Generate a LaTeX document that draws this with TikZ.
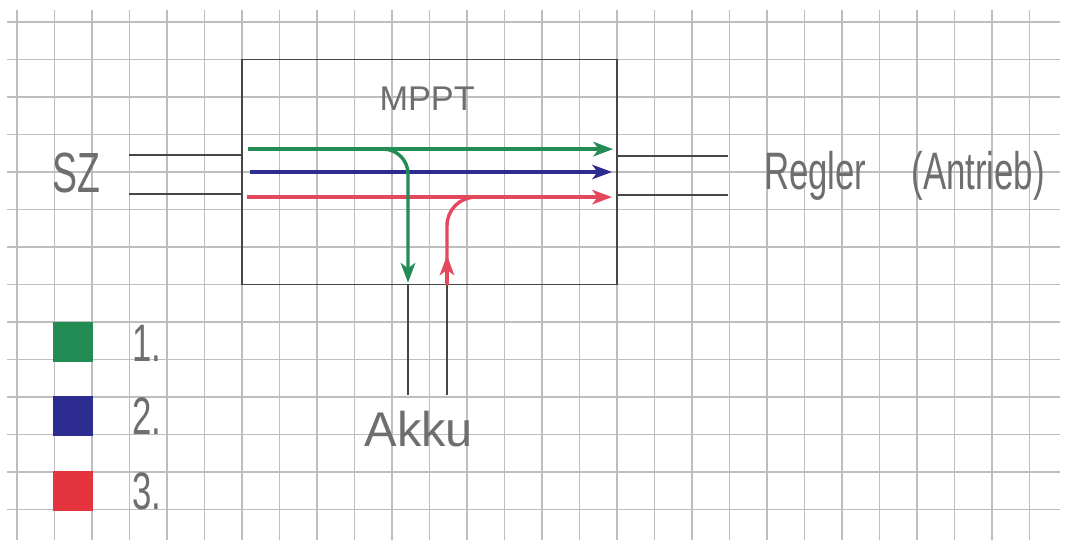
\documentclass[tikz,border=0pt]{standalone}
\usepackage{fontspec}
\setmainfont{Liberation Sans}
\newfontfamily\narrowhand[FakeStretch=0.66]{Liberation Sans}
\usetikzlibrary{arrows.meta}
\definecolor{pencil}{RGB}{110,110,110}
\definecolor{lead}{RGB}{70,70,70}
\definecolor{gridgray}{RGB}{190,190,190}
\definecolor{penA}{RGB}{35,140,85}
\definecolor{penB}{RGB}{45,45,145}
\definecolor{penC}{RGB}{228,72,92}
\definecolor{crayonC}{RGB}{228,52,62}

\begin{document}
\begin{tikzpicture}[x=.5cm,y=.5cm,line width=.7pt,
  gridline/.style={draw=gridgray,line width=.5pt},
  wire/.style={draw=lead,line width=.7pt},
  flow/.style={line width=1.3pt},
  tip/.style={-{Stealth[length=7.5pt,width=5.5pt,inset=2pt]}},
  hand/.style={text=pencil,inner sep=0pt,anchor=base},
  swatch/.style={minimum size=.54cm,inner sep=0pt}]
\useasboundingbox (0,0) rectangle (28.48,14.587);
\fill[white] (0,0) rectangle (28.48,14.587);
% squared paper
\foreach \x in {0,...,27} \draw[gridline] (\x+.45,.19) -- (\x+.45,14.32);
\foreach \y in {1,...,14} \draw[gridline] (.19,\y) -- (28.27,\y);

\node[draw=lead,minimum width=5cm,minimum height=3cm,inner sep=0pt] (mppt) at (11.45,10) {};
\node[hand,font=\fontsize{13}{13}\selectfont] (mpptlabel) at (11.39,11.65) {MPPT};
\node[hand,font=\narrowhand\fontsize{21.5}{21.5}\selectfont] (sz) at (2.03,9.44) {SZ};
\node[hand,anchor=base west,font=\narrowhand\fontsize{20}{20}\selectfont] (regler) at (20.35,9.52) {Regler\hspace{.6cm}(Antrieb)};
\node[hand,font=\fontsize{18.5}{18.5}\selectfont] (akku) at (11.17,2.67) {Akku};

% leads
\coordinate (szA) at (3.45,10.45); \coordinate (szB) at (3.45,9.41);
\coordinate (rgA) at (19.4,10.43); \coordinate (rgB) at (19.4,9.39);
\coordinate (akA) at (10.88,4.05); \coordinate (akB) at (11.92,4.05);
\draw[wire] (szA) -- (szA -| mppt.west);
\draw[wire] (szB) -- (szB -| mppt.west);
\draw[wire] (rgA) -- (rgA -| mppt.east);
\draw[wire] (rgB) -- (rgB -| mppt.east);
\draw[wire] (akA) -- (akA |- mppt.south);
\draw[wire] (akB) -- (akB |- mppt.south);

% energy flows
\draw[flow,penA,tip] (6.61,10.61) -- (16.35,10.61);
\draw[flow,penB,tip] (6.67,10) -- (16.32,10);
\draw[flow,penC,tip] (6.59,9.33) -- (16.32,9.33);
\draw[flow,penA,tip,rounded corners=.33cm] (9.8,10.61) -| ([yshift=1pt]akA |- mppt.south);
\draw[flow,penC,rounded corners=.38cm] (akB |- mppt.south) |- (13.6,9.33);
\draw[flow,penC,tip] (akB |- mppt.south) -- ++(0,.8);

% legend
\node[swatch,fill=penA] (k1) at (1.95,5.47) {};
\node[swatch,fill=penB] (k2) at (1.95,3.5) {};
\node[swatch,fill=crayonC] (k3) at (1.95,1.5) {};
\node[hand,anchor=base west,font=\narrowhand\fontsize{20}{20}\selectfont] (n1) at (3.5,4.95) {1.};
\node[hand,anchor=base west,font=\narrowhand\fontsize{20}{20}\selectfont] (n2) at (3.5,3.0) {2.};
\node[hand,anchor=base west,font=\narrowhand\fontsize{20}{20}\selectfont] (n3) at (3.5,1.0) {3.};
\end{tikzpicture}
\end{document}
